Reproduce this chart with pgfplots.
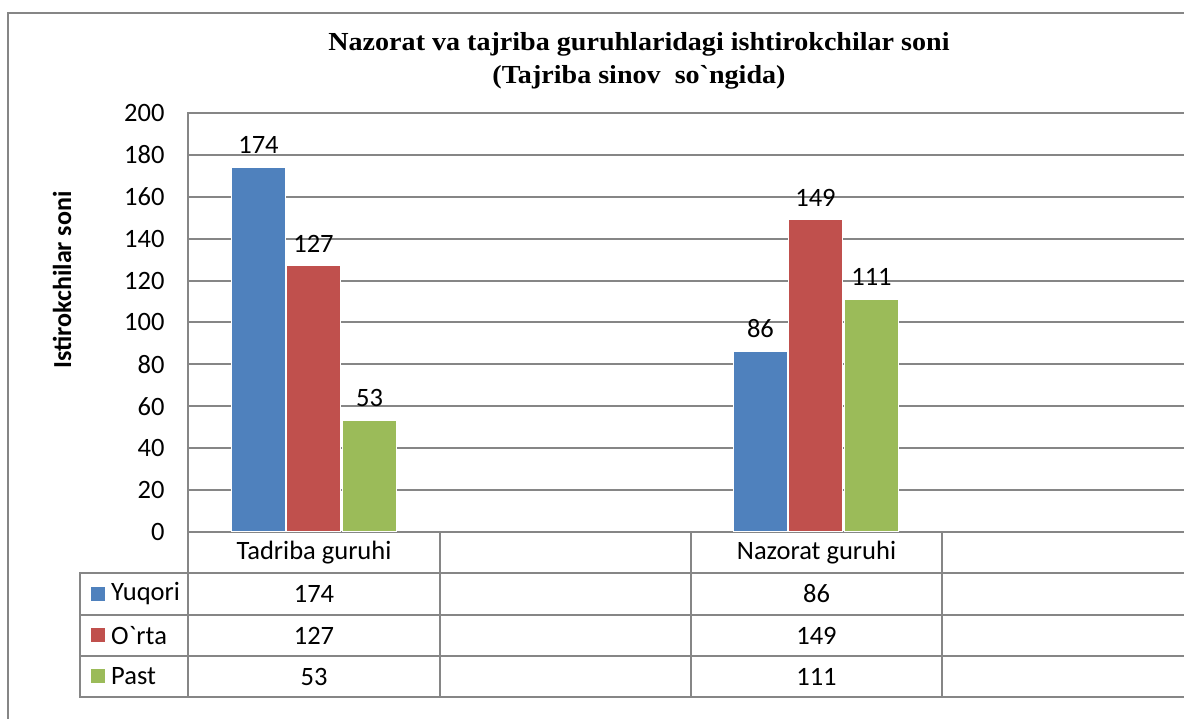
\documentclass[border=0pt]{standalone}
\usepackage{fontspec}
\setmainfont{Carlito}[Ligatures=TeXOff]
\newfontfamily\titlefont{Liberation Serif}[Ligatures=TeXOff,FakeStretch=1.08]
\usepackage{pgfplots}
\pgfplotsset{compat=1.18}
\definecolor{cblue}{RGB}{79,129,189}
\definecolor{cred}{RGB}{192,80,77}
\definecolor{cgreen}{RGB}{155,187,89}
\definecolor{lgray}{RGB}{134,134,134}
\newcommand{\cf}{\fontsize{26.5}{31}\selectfont}
\begin{document}
\begin{tikzpicture}[x=1pt,y=1pt]
\useasboundingbox (0,0) rectangle (1184,719);
\fill[white] (0,0) rectangle (1184,719);
% outer chart frame
\draw[lgray, line width=2pt] (8,-5) -- (8,706) -- (1200,706);
% title
\node[font=\titlefont\bfseries\fontsize{26}{33}\selectfont, align=center] at (639,658)
  {Nazorat va tajriba guruhlaridagi ishtirokchilar soni\\(Tajriba sinov\ \ so`ngida)};
% y label
\node[rotate=90, font=\bfseries\fontsize{26}{30}\selectfont] at (62,439) {Istirokchilar soni};
\begin{axis}[
  at={(188pt,187pt)}, anchor=south west,
  scale only axis, width=1004pt, height=419pt,
  xmin=0, xmax=4, ymin=0, ymax=200,
  ytick={0,20,...,200}, xtick=\empty,
  ymajorgrids, grid style={lgray, line width=2pt},
  axis line style={lgray, line width=2pt},
  major tick length=0pt,
  /pgf/number format/assume math mode=true,
  tick label style={font=\cf, black},
  yticklabel style={xshift=-20pt},
  ybar, bar width=54pt,
  nodes near coords,
  nodes near coords style={font=\cf, black, yshift=10pt},
]
\addplot[fill=cblue, draw=white, line width=1pt, bar shift=-55pt] coordinates {(0.5,174) (2.5,86)};
\addplot[fill=cred, draw=white, line width=1pt, bar shift=0pt] coordinates {(0.5,127) (2.5,149)};
\addplot[fill=cgreen, draw=white, line width=1pt, bar shift=56pt] coordinates {(0.5,53) (2.5,111)};
\end{axis}
% data table
\begin{scope}[lgray, line width=2pt]
\draw (80,146) -- (1200,146);
\draw (80,104) -- (1200,104);
\draw (80,63) -- (1200,63);
\draw (80,22) -- (1200,22);
\draw (80,147) -- (80,21);
\draw (188,187) -- (188,21);
\draw (440,187) -- (440,21);
\draw (691,187) -- (691,21);
\draw (942,187) -- (942,21);
\end{scope}
\node[font=\cf] at (314,166.5) {Tadriba guruhi};
\node[font=\cf] at (816.5,166.5) {Nazorat guruhi};
\node[font=\cf] at (314,125) {174};
\node[font=\cf] at (816.5,125) {86};
\node[font=\cf] at (314,83.5) {127};
\node[font=\cf] at (816.5,83.5) {149};
\node[font=\cf] at (314,42.5) {53};
\node[font=\cf] at (816.5,42.5) {111};
\fill[cblue] (91,118) rectangle (105,132);
\fill[cred] (91,76.5) rectangle (105,90.5);
\fill[cgreen] (91,35.5) rectangle (105,49.5);
\node[font=\cf, anchor=west, inner sep=0pt] at (111,125) {Yuqori};
\node[font=\cf, anchor=west, inner sep=0pt] at (111,83.5) {O`rta};
\node[font=\cf, anchor=west, inner sep=0pt] at (111,42.5) {Past};
\end{tikzpicture}
\end{document}
